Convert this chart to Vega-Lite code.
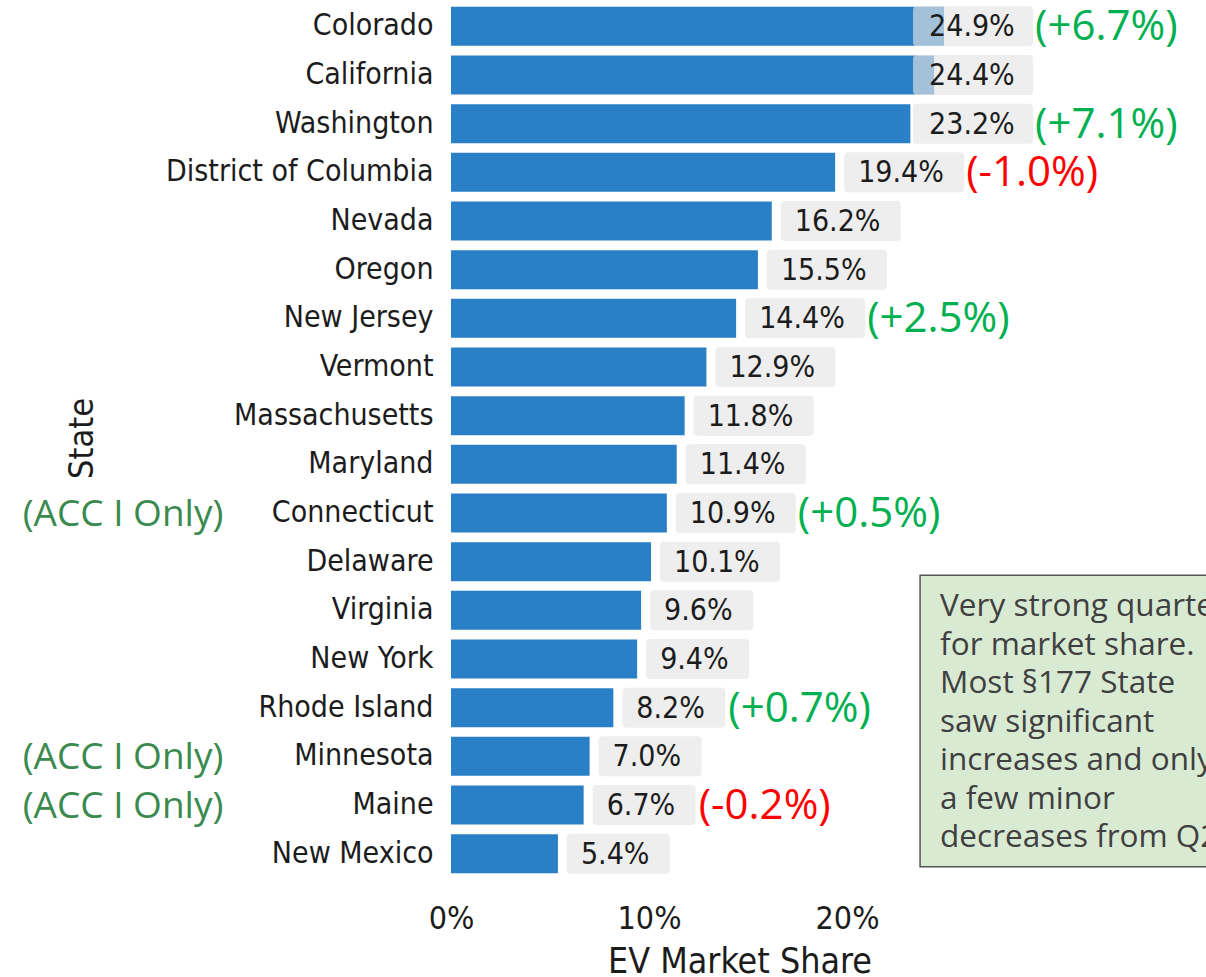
{
  "$schema": "https://vega.github.io/schema/vega-lite/v6.json",
  "autosize": "none",
  "width": 577,
  "height": 876,
  "padding": {"left": 451, "top": 2, "right": 178, "bottom": 99},
  "background": "white",
  "config": {"view": {"stroke": null}},
  "data": {"values": [
    {"state": "Colorado", "value": 24.9, "label": "24.9%", "change": "(+6.7%)", "dir": "up", "note": ""},
    {"state": "California", "value": 24.4, "label": "24.4%", "change": "", "dir": "", "note": ""},
    {"state": "Washington", "value": 23.2, "label": "23.2%", "change": "(+7.1%)", "dir": "up", "note": ""},
    {"state": "District of Columbia", "value": 19.4, "label": "19.4%", "change": "(-1.0%)", "dir": "down", "note": ""},
    {"state": "Nevada", "value": 16.2, "label": "16.2%", "change": "", "dir": "", "note": ""},
    {"state": "Oregon", "value": 15.5, "label": "15.5%", "change": "", "dir": "", "note": ""},
    {"state": "New Jersey", "value": 14.4, "label": "14.4%", "change": "(+2.5%)", "dir": "up", "note": ""},
    {"state": "Vermont", "value": 12.9, "label": "12.9%", "change": "", "dir": "", "note": ""},
    {"state": "Massachusetts", "value": 11.8, "label": "11.8%", "change": "", "dir": "", "note": ""},
    {"state": "Maryland", "value": 11.4, "label": "11.4%", "change": "", "dir": "", "note": ""},
    {"state": "Connecticut", "value": 10.9, "label": "10.9%", "change": "(+0.5%)", "dir": "up", "note": "(ACC I Only)"},
    {"state": "Delaware", "value": 10.1, "label": "10.1%", "change": "", "dir": "", "note": ""},
    {"state": "Virginia", "value": 9.6, "label": "9.6%", "change": "", "dir": "", "note": ""},
    {"state": "New York", "value": 9.4, "label": "9.4%", "change": "", "dir": "", "note": ""},
    {"state": "Rhode Island", "value": 8.2, "label": "8.2%", "change": "(+0.7%)", "dir": "up", "note": ""},
    {"state": "Minnesota", "value": 7.0, "label": "7.0%", "change": "", "dir": "", "note": "(ACC I Only)"},
    {"state": "Maine", "value": 6.7, "label": "6.7%", "change": "(-0.2%)", "dir": "down", "note": "(ACC I Only)"},
    {"state": "New Mexico", "value": 5.4, "label": "5.4%", "change": "", "dir": "", "note": ""}
  ]},
  "encoding": {
    "y": {
      "field": "state", "type": "nominal", "sort": null,
      "scale": {"paddingInner": 0.2, "paddingOuter": 0.1},
      "axis": {
        "title": "State", "domain": false, "ticks": false, "tickSize": 0,
        "labelFont": "DejaVu Sans Condensed", "labelFontSize": 30, "labelColor": "#1c1c1c",
        "labelPadding": 18, "labelLimit": 400,
        "titleFont": "DejaVu Sans Condensed", "titleFontSize": 34, "titleFontWeight": "normal",
        "titleColor": "#1c1c1c", "titleX": -352, "titleY": 436
      }
    }
  },
  "layer": [
    {
      "mark": {"type": "bar", "color": "#2a80c6"},
      "encoding": {
        "x": {
          "field": "value", "type": "quantitative",
          "scale": {"domain": [0, 29.14], "nice": false},
          "axis": {
            "title": "EV Market Share", "values": [0, 10, 20], "labelExpr": "datum.value + '%'",
            "domain": false, "ticks": false, "tickSize": 0, "grid": false, "labelFlush": false,
            "labelFont": "DejaVu Sans Condensed", "labelFontSize": 32, "labelColor": "#1c1c1c",
            "labelBaseline": "alphabetic", "labelPadding": 50,
            "titleFont": "DejaVu Sans Condensed", "titleFontSize": 35.5, "titleFontWeight": "normal",
            "titleColor": "#1c1c1c", "titleBaseline": "alphabetic", "titleY": 94
          }
        }
      }
    },
    {
      "transform": [{"filter": "datum.value < 22"}],
      "mark": {"type": "point", "size": 4, "filled": true, "color": "#e5e5e5", "opacity": 0.65, "strokeWidth": 0},
      "encoding": {
        "x": {"field": "value", "type": "quantitative"},
        "shape": {
          "condition": {"test": "datum.value < 10", "value": "M13,-20 H108 Q112,-20 112,-16 V16 Q112,20 108,20 H13 Q9,20 9,16 V-16 Q9,-20 13,-20 Z"},
          "value": "M13,-20 H125 Q129,-20 129,-16 V16 Q129,20 125,20 H13 Q9,20 9,16 V-16 Q9,-20 13,-20 Z"
        }
      }
    },
    {
      "transform": [{"filter": "datum.value >= 22"}],
      "mark": {"type": "point", "size": 4, "filled": true, "color": "#e5e5e5", "opacity": 0.65, "strokeWidth": 0,
        "shape": "M13,-20 H125 Q129,-20 129,-16 V16 Q129,20 125,20 H13 Q9,20 9,16 V-16 Q9,-20 13,-20 Z"},
      "encoding": {"x": {"datum": 22.88, "type": "quantitative"}}
    },
    {
      "transform": [{"filter": "datum.value < 22"}],
      "mark": {"type": "text", "align": "left", "baseline": "middle", "xOffset": 23, "yOffset": 1,
        "font": "DejaVu Sans Condensed", "fontSize": 30, "color": "#1c1c1c"},
      "encoding": {
        "x": {"field": "value", "type": "quantitative"},
        "text": {"field": "label"}
      }
    },
    {
      "transform": [{"filter": "datum.value >= 22"}],
      "mark": {"type": "text", "align": "left", "baseline": "middle", "xOffset": 25, "yOffset": 1,
        "font": "DejaVu Sans Condensed", "fontSize": 30, "color": "#1c1c1c"},
      "encoding": {
        "x": {"datum": 22.88, "type": "quantitative"},
        "text": {"field": "label"}
      }
    },
    {
      "transform": [{"filter": "datum.change != '' && datum.value < 10"}],
      "mark": {"type": "text", "align": "left", "baseline": "middle", "xOffset": 115, "yOffset": 1,
        "font": "Open Sans", "fontSize": 42},
      "encoding": {
        "x": {"field": "value", "type": "quantitative"},
        "text": {"field": "change"},
        "color": {"field": "dir", "type": "nominal", "scale": {"domain": ["up", "down"], "range": ["#00b050", "#ff0000"]}, "legend": null}
      }
    },
    {
      "transform": [{"filter": "datum.change != '' && datum.value >= 10 && datum.value < 22"}],
      "mark": {"type": "text", "align": "left", "baseline": "middle", "xOffset": 131, "yOffset": 1,
        "font": "Open Sans", "fontSize": 42},
      "encoding": {
        "x": {"field": "value", "type": "quantitative"},
        "text": {"field": "change"},
        "color": {"field": "dir", "type": "nominal", "scale": {"domain": ["up", "down"], "range": ["#00b050", "#ff0000"]}, "legend": null}
      }
    },
    {
      "transform": [{"filter": "datum.change != '' && datum.value >= 22"}],
      "mark": {"type": "text", "align": "left", "baseline": "middle", "xOffset": 131, "yOffset": 1,
        "font": "Open Sans", "fontSize": 42},
      "encoding": {
        "x": {"datum": 22.88, "type": "quantitative"},
        "text": {"field": "change"},
        "color": {"field": "dir", "type": "nominal", "scale": {"domain": ["up", "down"], "range": ["#00b050", "#ff0000"]}, "legend": null}
      }
    },
    {
      "transform": [{"filter": "datum.note != ''"}],
      "mark": {"type": "text", "align": "center", "baseline": "middle", "xOffset": -328, "yOffset": 2,
        "font": "Open Sans", "fontSize": 37, "color": "#3a8a4f"},
      "encoding": {
        "x": {"datum": 0, "type": "quantitative"},
        "text": {"field": "note"}
      }
    },
    {
      "data": {"values": [{"x": 23.69, "x2": 40, "top": "Virginia", "bottom": "New Mexico"}]},
      "mark": {"type": "rect", "fill": "#d9ead3", "stroke": "#555555", "strokeWidth": 1.5, "yOffset": -35, "y2Offset": 13},
      "encoding": {
        "x": {"field": "x", "type": "quantitative"},
        "x2": {"field": "x2"},
        "y": {"field": "top", "type": "nominal", "bandPosition": 0.5},
        "y2": {"field": "bottom", "bandPosition": 0.5}
      }
    },
    {
      "data": {"values": [{"x": 23.69, "row": "Virginia", "lines": ["Very strong quarter", "for market share.", "Most §177 State", "saw significant", "increases and only", "a few minor", "decreases from Q2"]}]},
      "mark": {"type": "text", "align": "left", "baseline": "alphabetic", "xOffset": 20, "yOffset": 6,
        "lineHeight": 38.5, "font": "Open Sans", "fontSize": 31.5, "color": "#404040"},
      "encoding": {
        "x": {"field": "x", "type": "quantitative"},
        "y": {"field": "row", "type": "nominal"},
        "text": {"field": "lines"}
      }
    }
  ]
}
